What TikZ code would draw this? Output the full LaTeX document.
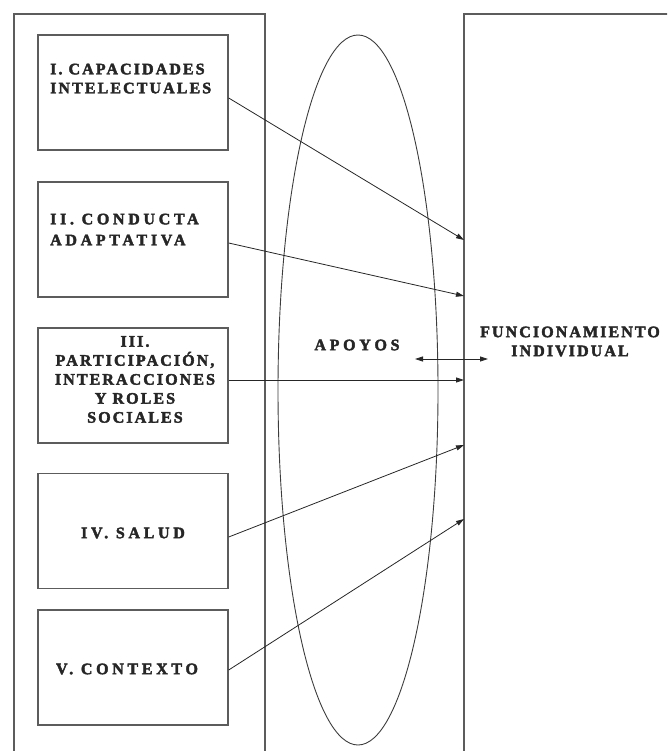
\documentclass[tikz,border=0pt]{standalone}
\usepackage{fontspec}
\usetikzlibrary{positioning,arrows.meta}
\newfontfamily\lblfont{Liberation Serif}[LetterSpace=13, FakeBold=2.5]
\newfontfamily\widefont{Liberation Serif}[LetterSpace=23, FakeBold=2.5]
\definecolor{edge}{HTML}{5C5C5C}
\definecolor{ink}{HTML}{262626}

\begin{document}
\begin{tikzpicture}[x=1pt, y=-1pt,
  frame/.style={draw=edge, line width=1.3pt},
  box/.style={draw=edge, line width=1.4pt, minimum width=190pt, minimum height=115pt, inner sep=0pt},
  lbl/.style={font=\lblfont\bfseries\fontsize{16}{19}\selectfont, text=ink, inner sep=0pt},
  wlbl/.style={lbl, font=\widefont\bfseries\fontsize{16}{19}\selectfont},
  link/.style={draw=ink, line width=0.8pt, -{Triangle[length=8pt,width=5pt]}}]
\useasboundingbox (0,0) rectangle (667,751);
\clip (0,0) rectangle (667,751);
% the two panels run off the page
\draw[frame] (14,14) rectangle (265,790);
\draw[frame] (464,14) rectangle (720,790);
% supports
\draw[ink!90, line width=0.9pt] (358,390) ellipse [x radius=80pt, y radius=355pt];
\node[wlbl] (apo) at (357,345) {APOYOS};
% the five dimensions
\node[box] (cap) at (133,92.5) {};
\node[box] (con) at (133,239.5) {};
\node[box] (par) at (133,385.5) {};
\node[box] (sal) at (133,531) {};
\node[box] (ctx) at (133,667.5) {};
\node[lbl, anchor=north west, align=left] (capt) at (50,63.5) {I. CAPACIDADES\\INTELECTUALES};
\node[wlbl, anchor=north west, align=left] (cont) at (50,213.5) {II. CONDUCTA\\[2pt]ADAPTATIVA};
\node[lbl, align=center] (part) at (135,379.5) {III.\\PARTICIPACIÓN,\\INTERACCIONES\\Y ROLES\\SOCIALES};
\node[wlbl] (salt) at (133,533) {IV. SALUD};
\node[wlbl] (ctxt) at (127,669) {V. CONTEXTO};
% individual functioning
\node[lbl, align=center] (fun) at (570,341.5) {FUNCIONAMIENTO\\INDIVIDUAL};
\coordinate (e1) at (464,240);
\coordinate (e2) at (464,296);
\coordinate (e3) at (464,380);
\coordinate (e4) at (464,445);
\coordinate (e5) at (464,519);
\coordinate (dl) at (415,359);
\coordinate (dr) at (488,359);
\draw[link] ([yshift=-5.5pt]cap.east) -- (e1);
\draw[link] ([yshift=-3.5pt]con.east) -- (e2);
\draw[link] ([yshift=5.5pt]par.east) -- (e3);
\draw[link] ([yshift=-6pt]sal.east) -- (e4);
\draw[link] ([yshift=-2.5pt]ctx.east) -- (e5);
\draw[link, {Triangle[length=8pt,width=5pt]}-{Triangle[length=8pt,width=5pt]}] (dl) -- (dr);
\end{tikzpicture}
\end{document}
